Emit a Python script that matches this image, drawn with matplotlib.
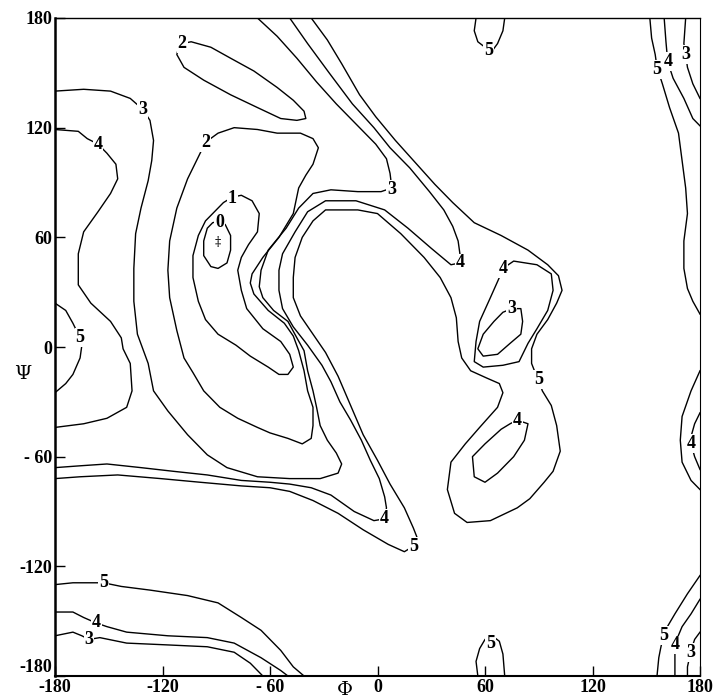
import numpy as np
import matplotlib.pyplot as plt

# axis ticks
ticks = [-180, -120, -60, 0, 60, 120, 180]
tick_labels = ['-180', '-120', '- 60', '0', '60', '120', '180']

# contour lines, (phi, psi) in degrees
zero_loop = [(-88, 69), (-85, 67), (-82, 61), (-82, 53), (-84, 46), (-89, 43), (-93, 44),
             (-97, 50), (-97, 58), (-95, 65), (-92, 68)]

one_loop = [(-81, 82), (-76, 83), (-70, 80), (-66, 73), (-67, 63), (-72, 56), (-76, 49),
            (-78, 42), (-76, 31), (-73, 21), (-64, 10), (-54, 3), (-49, -4), (-47, -11),
            (-50, -15), (-55, -15), (-61, -11), (-71, -5), (-79, 1), (-89, 7), (-96, 15),
            (-100, 25), (-103, 38), (-103, 50), (-100, 61), (-96, 69), (-90, 75), (-86, 79)]

two_top = [(-109, 166), (-104, 167), (-93, 164), (-82, 158), (-69, 151), (-56, 142),
           (-47, 135), (-41, 129), (-40, 125), (-45, 124), (-54, 125), (-67, 131),
           (-82, 138), (-97, 146), (-108, 153), (-112, 160), (-111, 164)]

two_big = [(-96, 112), (-89, 117), (-80, 120), (-67, 119), (-56, 117), (-43, 117), (-36, 114),
           (-33, 109), (-36, 100), (-40, 94), (-44, 87), (-47, 73), (-55, 60), (-64, 49),
           (-70, 40), (-71, 35), (-69, 29), (-61, 20), (-52, 13), (-47, 6), (-44, -2),
           (-41, -13), (-39, -24), (-36, -33), (-36, -43), (-37, -50), (-42, -53), (-50, -50),
           (-60, -47), (-67, -44), (-78, -39), (-88, -33), (-97, -24), (-103, -14), (-108, -6),
           (-112, 9), (-114, 18), (-116, 27), (-117, 42), (-116, 58), (-112, 76), (-106, 92),
           (-99, 106)]

three_long = [(-180, 140), (-164, 141), (-149, 140), (-138, 136), (-131, 130), (-127, 124),
              (-125, 113), (-126, 102), (-128, 91), (-132, 76), (-135, 62), (-136, 43),
              (-136, 25), (-134, 7), (-128, -9), (-125, -24), (-117, -35), (-106, -48),
              (-95, -59), (-84, -66), (-67, -71), (-49, -72), (-32, -72), (-22, -69),
              (-20, -64), (-23, -58), (-28, -51), (-32, -43), (-34, -33), (-36, -24),
              (-39, -13), (-41, -2), (-45, 5), (-50, 14), (-58, 20), (-64, 27), (-66, 33),
              (-65, 42), (-61, 53), (-51, 65), (-44, 76), (-36, 84), (-26, 86), (-11, 85),
              (2, 85), (8, 87), (7, 95), (5, 103), (-1, 111), (-12, 122), (-23, 133),
              (-34, 145), (-45, 158), (-56, 170), (-67, 180)]

four_left = [(-180, 119), (-167, 118), (-162, 114), (-156, 111), (-151, 106), (-146, 100),
             (-145, 92), (-149, 84), (-156, 74), (-164, 63), (-167, 51), (-167, 34),
             (-160, 24), (-149, 14), (-143, 5), (-142, -1), (-138, -9), (-137, -24),
             (-140, -33), (-151, -39), (-164, -42), (-180, -44)]

four_valley = [(-49, 180), (-39, 166), (-27, 150), (-14, 133), (-2, 120), (7, 109), (18, 98),
               (29, 85), (37, 75), (42, 66), (45, 58), (46, 51), (46, 46), (41, 45), (30, 54),
               (17, 65), (4, 75), (-12, 80), (-29, 80), (-39, 74), (-46, 63), (-53, 51),
               (-55, 42), (-55, 31), (-53, 21), (-47, 11), (-39, 1), (-31, -10), (-26, -19),
               (-21, -30), (-15, -40), (-9, -51), (-4, -62), (1, -72), (4, -82), (5, -88),
               (4, -94), (-2, -95), (-13, -90), (-26, -81), (-37, -77), (-49, -75), (-60, -74),
               (-76, -73), (-95, -70), (-114, -68), (-132, -66), (-151, -64), (-166, -65),
               (-180, -66)]

four_up_loop = [(70, 43), (76, 47), (89, 45), (97, 40), (98, 31), (95, 20), (89, 10), (84, 2),
                (79, -8), (70, -10), (59, -11), (54, -8), (55, 3), (57, 14), (63, 27), (68, 38)]

three_loop = [(75, 21), (80, 21), (81, 14), (80, 7), (74, 2), (67, -4), (59, -5), (56, -1),
              (59, 7), (65, 14), (70, 19)]

four_low_loop = [(78, -40), (84, -42), (82, -51), (76, -60), (67, -69), (60, -74), (54, -71),
                 (53, -60), (60, -53), (69, -45), (74, -42)]

five_big = [(-37, 180), (-28, 168), (-20, 155), (-10, 138), (-1, 126), (10, 113), (21, 101),
            (32, 89), (42, 79), (54, 68), (69, 61), (84, 53), (95, 45), (101, 39), (103, 31),
            (100, 24), (95, 15), (89, 7), (86, -1), (86, -9), (88, -14), (90, -18), (92, -24),
            (97, -32), (100, -43), (102, -57), (98, -68), (93, -74), (85, -83), (78, -88),
            (63, -95), (50, -96), (43, -91), (39, -78), (41, -63), (49, -53), (57, -44),
            (67, -33), (70, -25), (68, -20), (61, -17), (52, -13), (47, -6), (45, 3), (44, 16),
            (41, 27), (35, 38), (26, 49), (13, 62), (0, 73), (-11, 75), (-29, 75), (-36, 69),
            (-42, 60), (-46, 49), (-47, 38), (-47, 27), (-43, 17), (-36, 7), (-29, -3),
            (-22, -16), (-15, -32), (-8, -48), (0, -62), (7, -75), (15, -88), (20, -99),
            (22, -104), (20, -109), (15, -112), (6, -108), (-8, -100), (-22, -91), (-36, -84),
            (-49, -79), (-60, -77), (-76, -76), (-99, -74), (-121, -72), (-145, -70),
            (-166, -71), (-180, -72)]

five_left = [(-180, 24), (-174, 20), (-170, 13), (-166, 5), (-165, 1), (-166, -6), (-170, -15),
             (-174, -20), (-180, -25)]

five_top = [(55, 180), (54, 173), (56, 167), (60, 164), (64, 162), (67, 166), (70, 173), (71, 180)]
five_bottom = [(56, -180), (55, -172), (57, -165), (60, -160), (64, -158), (68, -161),
               (70, -168), (71, -180)]

five_bl = [(-180, -130), (-170, -129), (-162, -129), (-153, -129), (-143, -131), (-127, -133),
           (-106, -136), (-89, -140), (-76, -148), (-65, -155), (-54, -166), (-47, -175),
           (-41, -180)]
four_bl = [(-180, -145), (-170, -145), (-164, -148), (-157, -151), (-151, -153), (-140, -156),
           (-117, -158), (-95, -159), (-80, -162), (-65, -170), (-54, -177), (-50, -180)]
three_bl = [(-180, -158), (-170, -156), (-165, -158), (-161, -160), (-155, -159), (-140, -162),
            (-117, -163), (-95, -164), (-80, -167), (-71, -173), (-64, -180)]

five_rt = [(152, 180), (153, 169), (155, 160), (156, 153), (159, 144), (163, 131), (168, 117),
           (170, 102), (172, 87), (173, 73), (171, 58), (171, 43), (173, 32), (176, 25), (180, 18)]
four_rt = [(160, 180), (161, 167), (162, 156), (165, 147), (171, 136), (176, 125), (180, 121)]
three_rt = [(172, 180), (171, 166), (172, 160), (173, 153), (176, 144), (180, 136)]

five_rm = [(180, -13), (175, -24), (170, -38), (169, -51), (170, -63), (175, -73), (180, -78)]
four_rm = [(180, -36), (177, -42), (175, -49), (175, -53), (177, -60), (180, -67)]

five_rb = [(180, -125), (173, -135), (166, -146), (160, -156), (158, -165), (157, -170), (156, -180)]
four_rb = [(180, -138), (175, -146), (170, -153), (167, -160), (166, -166), (166, -173), (166, -180)]
three_rb = [(180, -156), (177, -160), (175, -166), (173, -175), (173, -180)]

open_lines = [three_long, four_left, four_valley, five_big, five_left, five_top, five_bottom,
              five_bl, four_bl, three_bl, five_rt, four_rt, three_rt, five_rm, four_rm,
              five_rb, four_rb, three_rb]
closed_lines = [zero_loop, one_loop, two_top, two_big, four_up_loop, three_loop, four_low_loop]

# level labels
label_text = ['0', '1', '2', '2', '3', '4', '3', '4', '4', '3', '5', '4', '4', '5', '5',
              '5', '4', '3', '5', '5', '5', '4', '3', '4', '5', '4', '3']
label_phi = [-88, -81, -109, -96, -131, -156, 8, 46, 70, 75, 90, 78, 4, 20, -166,
             -153, -157, -161, 62, 63, 156, 162, 172, 175, 160, 166, 175]
label_psi = [68, 81, 166, 112, 130, 111, 86, 46, 43, 21, -18, -40, -94, -109, 5,
             -129, -151, -160, 162, -162, 152, 156, 160, -53, -158, -163, -167]

# energy minimum
min_phi, min_psi = -89, 57

fig = plt.figure(figsize=(7.17, 6.99), dpi=100)
ax = fig.add_axes([55 / 717, 23 / 699, 645 / 717, 658 / 699])

for pts in open_lines:
    a = np.array(pts)
    ax.plot(a[:, 0], a[:, 1], color='black', lw=1.0)
for pts in closed_lines:
    a = np.array(pts + [pts[0]])
    ax.plot(a[:, 0], a[:, 1], color='black', lw=1.0)

for t, x, y in zip(label_text, label_phi, label_psi):
    ax.text(x, y, t, ha='center', va='center', fontsize=13, fontweight='bold',
            family='Liberation Serif', zorder=3,
            bbox=dict(boxstyle='square,pad=0.05', fc='white', ec='none'))

ax.text(min_phi, min_psi, '‡', ha='center', va='center', fontsize=9, family='DejaVu Serif')

ax.set_xlim(-180, 180)
ax.set_ylim(-180, 180)
ax.set_xticks(ticks)
ax.set_yticks(ticks)
ax.set_xticklabels(tick_labels)
ax.set_yticklabels(tick_labels)
for lab in ax.get_xticklabels() + ax.get_yticklabels():
    lab.set_family('Liberation Serif')
    lab.set_fontweight('bold')
    lab.set_fontsize(13)
# the -180 on the psi axis sits a little higher than its tick
ax.get_yticklabels()[0].set_verticalalignment('bottom')
ax.tick_params(direction='in', length=7, width=1, pad=2)

ax.spines['left'].set_linewidth(1.8)
ax.spines['bottom'].set_linewidth(1.5)
ax.spines['top'].set_linewidth(1.0)
ax.spines['right'].set_linewidth(0.8)

ax.annotate('Φ', xy=(-18, -0.021), xycoords=('data', 'axes fraction'), ha='center', va='center',
            fontsize=14, family='DejaVu Serif', annotation_clip=False)
ax.annotate('Ψ', xy=(-0.05, -15), xycoords=('axes fraction', 'data'), ha='center', va='center',
            fontsize=14, family='DejaVu Serif', annotation_clip=False)

fig.savefig('out.png', dpi=100)
